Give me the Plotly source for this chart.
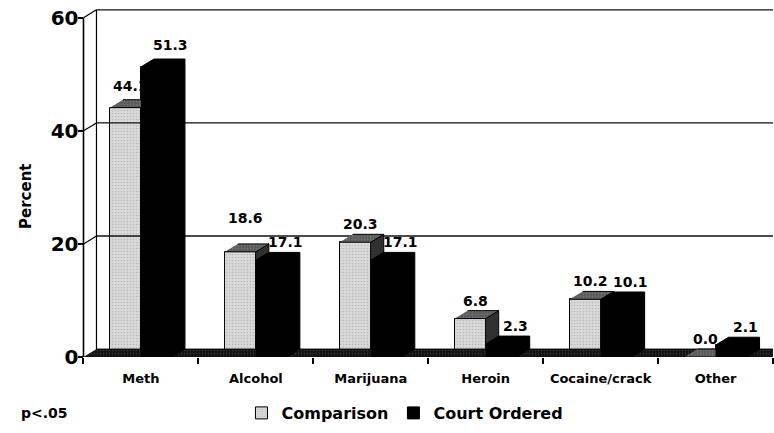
import plotly.graph_objects as go

# ---- data ----
categories = ["Meth", "Alcohol", "Marijuana", "Heroin", "Cocaine/crack", "Other"]
comparison = [44.1, 18.6, 20.3, 6.8, 10.2, 0.0]
court_ordered = [51.3, 17.1, 17.1, 2.3, 10.1, 2.1]
y_ticks = [0, 20, 40, 60]
series_names = ["Comparison", "Court Ordered"]

# ---- geometry of the pseudo-3D columns (axis units) ----
BAR_W = 0.27          # width of each column's front face
DX, DY = 0.113, 1.4   # depth offset of the back plane
X_LO, X_HI = -0.5, len(categories) - 0.5
X_RANGE = [-0.6, X_HI]
Y_RANGE = [0, 61.9]
Y_MAX = y_ticks[-1]

FONT = "DejaVu Sans"
LIGHT = "#d9d9d9"
DARK_TOP = "#5a5a5a"
DARK_SIDE = "#303030"

# extra lift (px) for a few value labels
label_lift = {(0, 0): 4, (0, 1): 4, (1, 0): 16}


def polys_to_xy(polys):
    xs, ys = [], []
    for p in polys:
        for x, y in p:
            xs.append(x)
            ys.append(y)
        xs.append(None)
        ys.append(None)
    return xs, ys


def poly_trace(polys, fillcolor, pattern=None, line_color="black", width=1):
    xs, ys = polys_to_xy(polys)
    kw = dict(x=xs, y=ys, mode="lines", fill="toself", fillcolor=fillcolor,
              line=dict(color=line_color, width=width), hoverinfo="skip",
              showlegend=False)
    if pattern:
        kw["fillpattern"] = pattern
    return go.Scatter(**kw)


def line_trace(xs, ys, color="black", width=1):
    return go.Scatter(x=xs, y=ys, mode="lines", line=dict(color=color, width=width),
                      hoverinfo="skip", showlegend=False)


fig = go.Figure()

# front faces (also provide the legend entries)
cmp_x = [i - BAR_W / 2 for i in range(len(categories))]
crt_x = [i + BAR_W / 2 for i in range(len(categories))]
fig.add_trace(go.Bar(x=cmp_x, y=comparison, width=BAR_W, name=series_names[0],
                     marker=dict(color=LIGHT, line=dict(color="black", width=1),
                                 pattern=dict(shape=".", fgcolor="#9c9c9c", bgcolor=LIGHT,
                                              size=3, solidity=0.25))))
fig.add_trace(go.Bar(x=crt_x, y=court_ordered, width=BAR_W, name=series_names[1],
                     marker=dict(color="black", line=dict(color="black", width=1))))

# back wall gridlines and left wall edges
wall_x0 = X_LO + DX
for v in y_ticks[1:]:
    fig.add_trace(line_trace([wall_x0, X_HI + DX], [v + DY, v + DY], "#111111", 1.3))
    fig.add_trace(line_trace([X_LO, wall_x0], [v, v + DY], "black", 1.2))
fig.add_trace(line_trace([wall_x0, wall_x0], [DY, Y_MAX + DY], "black", 1.2))

# floor
floor = [[(X_LO, 0), (X_HI + DX, 0), (X_HI + DX, DY), (wall_x0, DY)]]
fig.add_trace(poly_trace(floor, "#141414",
                         pattern=dict(shape=".", fgcolor="#5a5a5a", bgcolor="#141414",
                                      size=3, solidity=0.15)))

# front axis line
fig.add_trace(line_trace([X_LO, X_LO], [0, Y_MAX], "black", 1.6))

# comparison columns: side and top faces
sides, tops = [], []
for i, v in enumerate(comparison):
    x0 = i - BAR_W
    x1 = i
    sides.append([(x1, 0), (x1 + DX, DY), (x1 + DX, v + DY), (x1, v)])
    tops.append([(x0, v), (x1, v), (x1 + DX, v + DY), (x0 + DX, v + DY)])
fig.add_trace(poly_trace(sides, DARK_SIDE))
fig.add_trace(poly_trace(tops, DARK_TOP,
                         pattern=dict(shape=".", fgcolor="#8a8a8a", bgcolor=DARK_TOP,
                                      size=3, solidity=0.3)))

# court ordered columns: full solid silhouette
sil = []
for i, v in enumerate(court_ordered):
    x0 = i
    x1 = i + BAR_W
    sil.append([(x0, 0), (x1, 0), (x1 + DX, DY), (x1 + DX, v + DY),
                (x0 + DX, v + DY), (x0, v)])
fig.add_trace(poly_trace(sil, "black"))

# value labels
annotations = []
for s, (vals, xs, xshift) in enumerate([(comparison, cmp_x, 5), (court_ordered, crt_x, 14)]):
    for i, v in enumerate(vals):
        annotations.append(dict(
            x=xs[i], y=v, xref="x", yref="y", text=f"{v:.1f}", showarrow=False,
            xshift=xshift, yshift=18 + label_lift.get((i, s), 0),
            xanchor="center", yanchor="middle",
            font=dict(family=FONT, size=14, color="black", weight="bold")))

annotations.append(dict(x=(26 - 72) / 701, y=(357 - 197) / 350, xref="paper", yref="paper",
                        text="Percent", textangle=-90, showarrow=False,
                        xanchor="center", yanchor="middle",
                        font=dict(family=FONT, size=15, color="black", weight="bold")))
annotations.append(dict(x=(44 - 72) / 701, y=-(413 - 357) / 350, xref="paper", yref="paper",
                        text="p<.05", showarrow=False, xanchor="center", yanchor="middle",
                        font=dict(family=FONT, size=14, color="black", weight="bold")))

fig.update_layout(
    width=774, height=433,
    margin=dict(l=72, r=1, t=7, b=76),
    paper_bgcolor="white", plot_bgcolor="white",
    barmode="overlay", bargap=0,
    showlegend=True,
    legend=dict(orientation="h", x=0.475, xanchor="center", y=-0.16, yanchor="middle",
                font=dict(family=FONT, size=16, color="black", weight="bold"),
                itemwidth=30, bgcolor="rgba(0,0,0,0)"),
    xaxis=dict(range=X_RANGE, tickvals=list(range(len(categories))), ticktext=categories,
               ticks="", showline=False, showgrid=False, zeroline=False,
               ticklabelstandoff=12,
               tickfont=dict(family=FONT, size=13, color="black", weight="bold"),
               minor=dict(tickvals=[i - 0.5 for i in range(len(categories) + 1)],
                          ticks="outside", ticklen=6, tickwidth=1.5, tickcolor="black",
                          showgrid=False)),
    yaxis=dict(range=Y_RANGE, anchor="free",
               position=(X_LO - X_RANGE[0]) / (X_RANGE[1] - X_RANGE[0]),
               tickvals=y_ticks, ticks="outside", ticklen=5, tickwidth=1.5,
               tickcolor="black", showline=False, showgrid=False, zeroline=False,
               ticklabelstandoff=-4,
               tickfont=dict(family=FONT, size=20, color="black", weight="bold")),
    annotations=annotations,
)

fig.write_html("out.html")
